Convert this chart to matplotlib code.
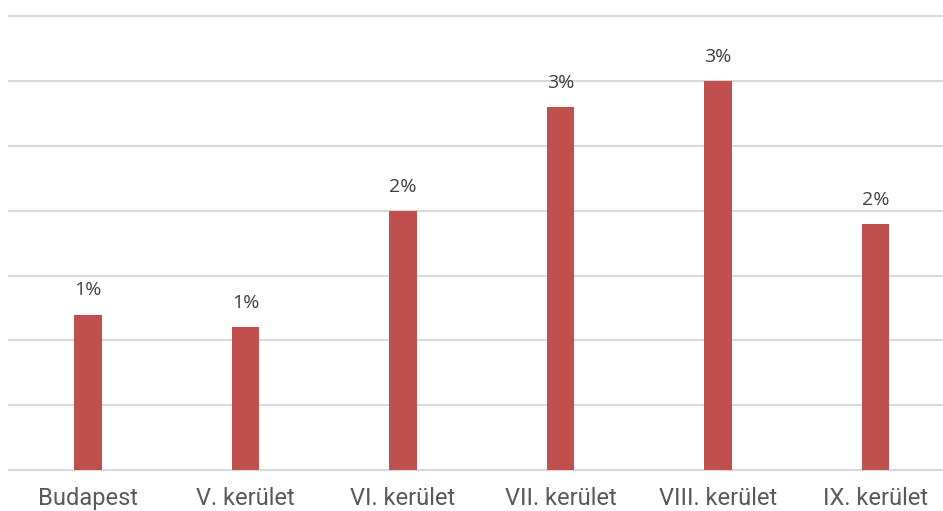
import matplotlib.pyplot as plt

# Share values per district (percent)
categories = ["Budapest", "V. kerület", "VI. kerület", "VII. kerület", "VIII. kerület", "IX. kerület"]
values = [1.2, 1.1, 2.0, 2.8, 3.0, 1.9]

fig = plt.figure(figsize=(9.43, 5.11), dpi=100)
ax = fig.add_axes([9.25 / 943, 41 / 511, 945 / 943, 453.5 / 511])

x = range(len(categories))
bars = ax.bar(x, values, width=0.175, color="#C0504D", zorder=3)

ax.set_xlim(-0.5, len(categories) - 0.5)
ax.set_ylim(0, 3.5)
ax.set_yticks([i * 0.5 for i in range(8)])
ax.set_yticklabels([])
ax.tick_params(axis="y", length=0)
ax.grid(axis="y", color="#D9D9D9", linewidth=1.5, zorder=0)
for gl in ax.get_ygridlines():
    gl.set_clip_on(False)
ax.set_xticks(list(x))
ax.set_xticklabels(categories, fontsize=17, family="Roboto", color="#595959")
ax.tick_params(axis="x", length=0, pad=12)
for s in ax.spines.values():
    s.set_visible(False)

#Labels above bars
for b, v in zip(bars, values):
    ax.annotate(f"{v:.0f}%", (b.get_x() + b.get_width() / 2, v), xytext=(0, 11),
                textcoords="offset points", ha="center", va="bottom",
                fontsize=14, family="Open Sans", color="#404040")

fig.savefig("out.png", dpi=100)
